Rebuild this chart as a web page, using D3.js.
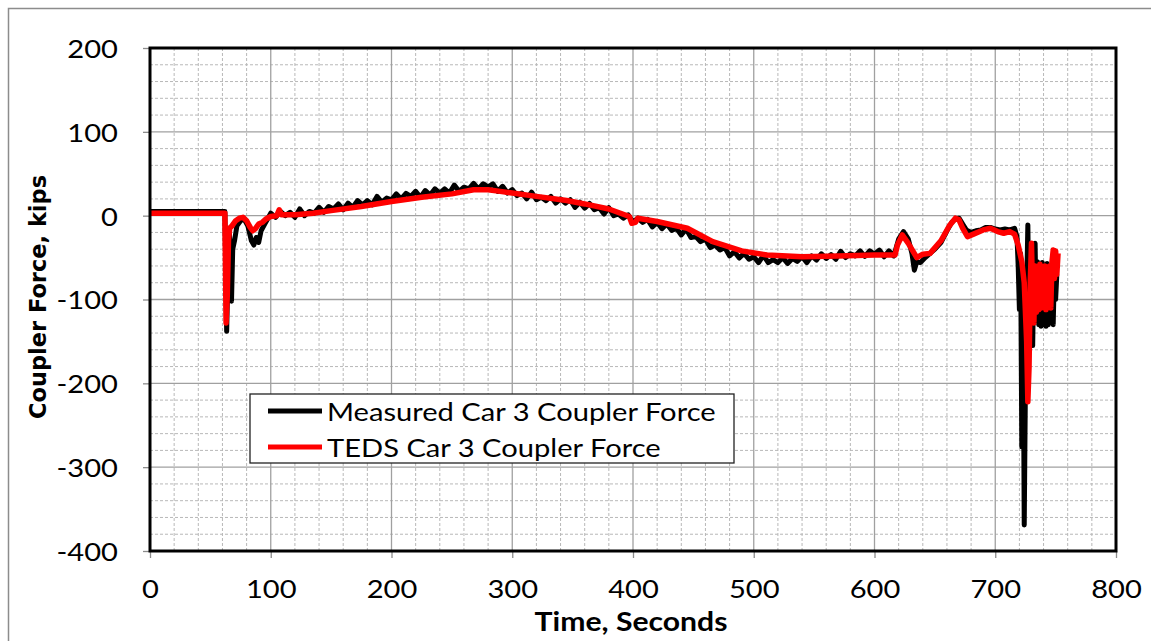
<!DOCTYPE html>
<html>
<head>
<meta charset="utf-8">
<script src="https://cdn.jsdelivr.net/npm/d3@7"></script>
<style>
  html, body { margin: 0; padding: 0; background: #fff; }
  svg { display: block; }
  text { font-family: Lato, "Open Sans", "Noto Sans", sans-serif; fill: #000; }
</style>
</head>
<body>
<svg id="chart" width="1151" height="641"></svg>
<script>
// Axis ticks
const xTicks = [0, 100, 200, 300, 400, 500, 600, 700, 800];
const yTicks = [-400, -300, -200, -100, 0, 100, 200];

const seriesNames = ["Measured Car 3 Coupler Force", "TEDS Car 3 Coupler Force"];

// Measured coupler force (kips) vs time (s)
const measuredTime = [
  0, 62, 62.5, 63.5, 64.5, 65.5, 66.5, 67.5, 68.5, 70, 72, 75, 78, 81, 84, 86, 88, 90, 92, 95, 97,
  100, 104, 108, 112, 116, 120, 124, 128, 132, 136, 140, 144, 148, 152, 156, 160, 164, 168, 172, 176,
  180, 184, 188, 192, 196, 200, 204, 208, 212, 216, 220, 224, 228, 232, 236, 240, 244, 248, 252, 256,
  260, 264, 268, 272, 276, 280, 284, 288, 292, 296, 300, 304, 308, 312, 316, 320, 324, 328, 332, 336,
  340, 344, 348, 352, 356, 360, 364, 368, 372, 376, 380, 384, 388, 392, 396, 400, 404, 408, 412, 416,
  420, 424, 428, 432, 436, 440, 444, 448, 452, 456, 460, 464, 468, 472, 476, 480, 484, 488, 492, 496,
  500, 504, 508, 512, 516, 520, 524, 528, 532, 536, 540, 544, 548, 552, 556, 560, 564, 568, 572, 576,
  580, 584, 588, 592, 596, 600, 604, 608, 612, 616,
  620, 624, 628, 631, 633, 635, 638, 642, 646, 650, 655, 660, 664, 667, 670, 673, 676, 680, 684, 688,
  692, 696, 700, 704, 708, 712, 716,
  718, 719, 720, 721, 722, 723, 724, 725, 726, 727, 728, 729, 730, 731, 732, 733, 734, 735, 736, 737,
  738, 739, 740, 741, 742, 743, 744, 745, 746, 747, 748, 749, 750, 751
];
const measuredForce = [
  5, 5, -40, -138, -70, -15, -40, -102, -40, -30, -12, -6, -4, -12, -30, -35, -26, -32, -18, -10, -5,
  3, -2, 5, 0, 4, -2, 8, 0, 5, 3, 10, 4, 11, 8, 14, 7, 15, 10, 18, 13,
  18, 13, 23, 16, 21, 19, 26, 20, 26.5, 23, 29, 22, 30, 24.5, 32, 27, 32, 27, 36.5, 29,
  34, 32, 38.5, 32, 38, 34, 38, 29, 35, 27, 31, 24, 27, 20, 28, 19, 22, 18, 23, 15,
  20, 15, 19, 10, 16, 9, 14.5, 7, 9.5, 2, 9.5, 0, 2, -3, 1, -8, -3, -8, -4.5, -13.5,
  -8, -15.5, -10, -17.5, -15, -23, -16, -26, -25, -31, -28, -38, -35, -41, -38, -48, -43, -50.5, -45, -52,
  -49, -56, -47.5, -56, -52.5, -56, -50, -57, -51, -54.5, -49, -56, -48, -53, -45.5, -51, -46.5, -52, -42.5, -50,
  -45.5, -48, -42, -48.5, -42, -46, -41, -49, -42, -48,
  -28, -19, -28, -45, -65, -55, -56, -50, -45, -40, -32, -18, -8, -4, -3, -10, -17, -20, -18, -17,
  -14, -14, -16, -17, -16, -17, -15,
  -25, -60, -112, -45, -276, -80, -369, -200, -90, -11, -140, -70, -130, -155, -60, -33, -125, -55, -130, -58,
  -132, -56, -130, -60, -132, -57, -130, -60, -125, -60, -130, -65, -100, -70
];

// TEDS simulated coupler force (kips) vs time (s)
const tedsTime = [
  0, 62, 62.5, 63, 64, 65, 66, 68, 71, 74, 77, 80, 83, 85, 87, 90, 93, 96, 100, 105, 107, 109,
  120, 135, 150, 175, 200, 225, 250, 268, 280, 290, 300, 320, 345, 360, 380, 397, 399, 402, 404,
  420, 445, 466, 490, 511, 540, 570, 600, 617, 619, 623, 628, 635, 640, 646, 655, 662, 667, 670,
  673, 677, 682, 690, 696, 702, 707, 712, 716, 719, 722, 724, 726, 727, 728, 729, 730, 731, 732,
  733, 734, 735, 736, 737, 738, 739, 740, 741, 742, 743, 744, 745, 746, 747, 748, 749, 750, 751, 752
];
const tedsForce = [
  3, 3, -60, -128, -95, -30, -15, -12, -6, -3, -2, -6, -14, -18, -16, -10, -8, -4, -1, 0, 7, 1,
  1, 3, 6, 11, 17, 22, 26, 31, 31, 29, 27, 23, 18, 14, 8, -1, -9, -8, -3,
  -7, -15, -31, -42, -47, -49, -48, -47, -47, -35, -23, -33, -50, -46, -45, -30, -12, -3, -5,
  -15, -25, -22, -17, -15, -19, -21, -19, -22, -35, -55, -80, -150, -222, -180, -80, -33, -100, -128,
  -60, -115, -65, -112, -58, -110, -62, -108, -60, -112, -65, -105, -60, -110, -55, -41, -75, -42, -70, -45
];

const svg = d3.select("#chart");
const W = 1151, H = 641;
const margin = { left: 150, top: 48, right: 35, bottom: 90 };
const plotW = W - margin.left - margin.right;
const plotH = H - margin.top - margin.bottom;
const FONT = "Lato, 'Open Sans', sans-serif";

// Outer chart border
svg.append("path")
  .attr("d", `M8.5,${H} V8.5 H${W}`)
  .attr("fill", "none").attr("stroke", "#8c8c8c").attr("stroke-width", 1.5);

const x = d3.scaleLinear().domain([0, 800]).range([0, plotW]);
const y = d3.scaleLinear().domain([-400, 200]).range([plotH, 0]);

const g = svg.append("g").attr("transform", `translate(${margin.left},${margin.top})`);

// Minor grid (every 20 units), dashed
const minorX = d3.range(0, 801, 20).filter(v => v % 100 !== 0);
const minorY = d3.range(-400, 201, 20).filter(v => v % 100 !== 0);
g.append("g").selectAll("line").data(minorX).join("line")
  .attr("x1", d => x(d)).attr("x2", d => x(d)).attr("y1", 0).attr("y2", plotH)
  .attr("stroke", "#b8b8b8").attr("stroke-width", 1).attr("stroke-dasharray", "3,2");
g.append("g").selectAll("line").data(minorY).join("line")
  .attr("y1", d => y(d)).attr("y2", d => y(d)).attr("x1", 0).attr("x2", plotW)
  .attr("stroke", "#b8b8b8").attr("stroke-width", 1).attr("stroke-dasharray", "3,2");

// Major grid
g.append("g").selectAll("line").data(xTicks).join("line")
  .attr("x1", d => x(d)).attr("x2", d => x(d)).attr("y1", 0).attr("y2", plotH)
  .attr("stroke", "#a0a0a0").attr("stroke-width", 1.3);
g.append("g").selectAll("line").data(yTicks).join("line")
  .attr("y1", d => y(d)).attr("y2", d => y(d)).attr("x1", 0).attr("x2", plotW)
  .attr("stroke", "#a0a0a0").attr("stroke-width", 1.3);

// Axes (plain hyphen for negatives)
const fmt = d => String(d);
const xAxis = d3.axisBottom(x).tickValues(xTicks).tickSize(7).tickPadding(22).tickFormat(fmt);
const yAxis = d3.axisLeft(y).tickValues(yTicks).tickSize(7).tickPadding(25).tickFormat(fmt);
const gx = g.append("g").attr("transform", `translate(0,${plotH})`).call(xAxis);
const gy = g.append("g").call(yAxis);
const SX = 1.12; // horizontal stretch of the label face
[gx, gy].forEach(a => {
  a.select(".domain").remove();
  a.selectAll(".tick line").attr("stroke", "#8c8c8c").attr("stroke-width", 1.3);
  a.selectAll(".tick text").style("font-size", "26px").attr("fill", "#000")
    .style("font-family", FONT);
});
gy.selectAll(".tick text").attr("dy", "0.36em")
  .attr("x", -32 / SX).attr("transform", `scale(${SX},1)`);
gx.selectAll(".tick text").attr("transform", `scale(${SX},1)`);

// Series lines
const lineGen = d3.line().x(d => x(d[0])).y(d => y(d[1]));
const measured = measuredTime.map((t, i) => [t, measuredForce[i]]);
const teds = tedsTime.map((t, i) => [t, tedsForce[i]]);

g.append("path").datum(measured)
  .attr("d", lineGen).attr("fill", "none").attr("stroke", "#000")
  .attr("stroke-width", 5).attr("stroke-linejoin", "round");
g.append("path").datum(teds)
  .attr("d", lineGen).attr("fill", "none").attr("stroke", "#ff0000")
  .attr("stroke-width", 5.5).attr("stroke-linejoin", "round");

// Plot frame
g.append("rect").attr("x", 0).attr("y", 0).attr("width", plotW).attr("height", plotH)
  .attr("fill", "none").attr("stroke", "#000").attr("stroke-width", 3);

// Axis titles
svg.append("text")
  .attr("transform", `translate(${margin.left + x(400) - 2},631) scale(1.16,1)`)
  .attr("text-anchor", "middle").style("font-size", "26px").style("font-weight", "bold")
  .text("Time, Seconds");
svg.append("text")
  .attr("transform", `translate(46,297) rotate(-90)`)
  .attr("text-anchor", "middle")
  .style("font-family", "'DejaVu Sans', Verdana, sans-serif")
  .style("font-size", "22.5px").style("font-weight", "bold")
  .text("Coupler Force, kips");

// Legend
const lg = svg.append("g").attr("transform", "translate(250,394)");
lg.append("rect").attr("x", 0).attr("y", 0).attr("width", 484).attr("height", 69)
  .attr("fill", "#fff").attr("stroke", "#222").attr("stroke-width", 1.3);
const colors = ["#000", "#ff0000"];
seriesNames.forEach((name, i) => {
  const cy = 17 + i * 36;
  lg.append("line").attr("x1", 18).attr("x2", 72).attr("y1", cy).attr("y2", cy)
    .attr("stroke", colors[i]).attr("stroke-width", 5);
  lg.append("text")
    .attr("transform", `translate(77,${cy + 10}) scale(1.12,1)`)
    .style("font-size", "26px").text(name);
});
</script>
</body>
</html>
